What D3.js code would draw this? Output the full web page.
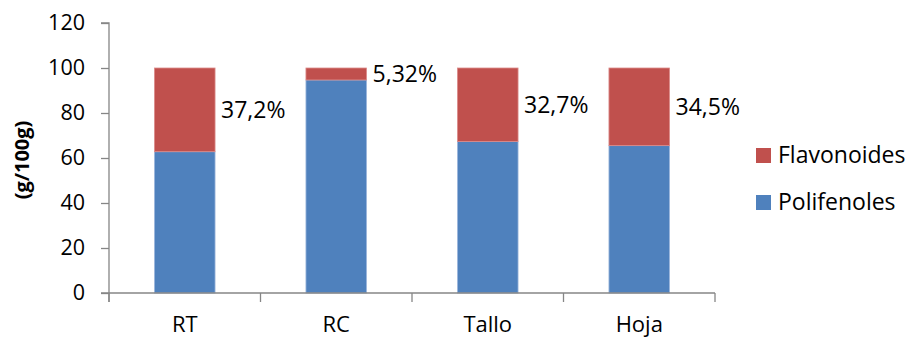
<!DOCTYPE html>
<html><head><meta charset="utf-8">
<script src="https://cdn.jsdelivr.net/npm/d3@7"></script>
<style>body{margin:0;background:#fff}svg{display:block}text{font-family:"Open Sans",sans-serif;fill:#000}</style>
</head><body><svg id="c" width="908" height="338"></svg>
<script>
const categories = ["RT", "RC", "Tallo", "Hoja"];
const polifenoles = [62.8, 94.68, 67.3, 65.5];
const flavonoides = [37.2, 5.32, 32.7, 34.5];
const labels = ["37,2%", "5,32%", "32,7%", "34,5%"];
const yTicks = [0, 20, 40, 60, 80, 100, 120];
const seriesNames = ["Flavonoides", "Polifenoles"];
const colors = {Polifenoles: "#4F81BD", Flavonoides: "#C0504D"};

const svg = d3.select("#c");
const pL = 109, pR = 715, pT = 23, pB = 293;
const x = d3.scaleBand().domain(categories).range([pL, pR]).padding(0);
const y = d3.scaleLinear().domain([0, 120]).range([pB, pT]);
const bw = x.bandwidth() * 0.4;
const axisColor = "#868686";

// y axis
const ya = svg.append("g").attr("transform", `translate(${pL},0)`)
  .call(d3.axisLeft(y).tickValues(yTicks).tickSize(8).tickPadding(16));
ya.select(".domain").attr("stroke", axisColor).attr("stroke-width", 1.3).attr("d", `M-8,${pT}H0V${pB + 9}`);
ya.selectAll(".tick line").attr("stroke", axisColor).attr("stroke-width", 1.3);
ya.selectAll(".tick text").attr("font-size", 21.5).attr("font-family", "Open Sans").attr("fill", "#000");

// bars
const data = categories.map((c, i) => ({c, p: polifenoles[i], f: flavonoides[i], l: labels[i]}));
const g = svg.append("g");
data.forEach(d => {
  const cx = x(d.c) + x.bandwidth() / 2;
  g.append("rect").attr("x", cx - bw / 2).attr("width", bw)
    .attr("y", y(d.p)).attr("height", y(0) - y(d.p))
    .attr("fill", colors.Polifenoles).attr("stroke", "#9db7dc").attr("stroke-width", 0.8);
  g.append("rect").attr("x", cx - bw / 2).attr("width", bw)
    .attr("y", y(d.p + d.f)).attr("height", y(d.p) - y(d.p + d.f))
    .attr("fill", colors.Flavonoides).attr("stroke", "#dc8c8a").attr("stroke-width", 0.8);
  svg.append("text").attr("x", cx + bw / 2 + 6).attr("y", y(d.p + d.f / 2))
    .attr("dy", "0.35em").attr("font-size", 23).text(d.l);
});

// x axis
const xa = svg.append("g").attr("transform", `translate(0,${pB})`);
xa.append("line").attr("x1", pL - 8).attr("x2", pR).attr("stroke", axisColor).attr("stroke-width", 1.3);
const bounds = categories.map(c => x(c)).concat([pR]);
xa.selectAll("line.t").data(bounds).join("line").attr("class", "t")
  .attr("x1", d => d).attr("x2", d => d).attr("y1", 0).attr("y2", 9)
  .attr("stroke", axisColor).attr("stroke-width", 1.3);
xa.selectAll("text").data(categories).join("text")
  .attr("x", d => x(d) + x.bandwidth() / 2).attr("y", 39)
  .attr("text-anchor", "middle").attr("font-size", 22).text(d => d);

// y title
svg.append("text").attr("transform", "translate(29,160) rotate(-90)")
  .attr("text-anchor", "middle").attr("font-size", 20).attr("font-weight", "bold").text("(g/100g)");

// legend
const leg = svg.append("g");
seriesNames.forEach((s, i) => {
  const ly = 155 + i * 47;
  leg.append("rect").attr("x", 756).attr("y", ly - 7).attr("width", 15).attr("height", 15).attr("fill", colors[s]);
  leg.append("text").attr("x", 778).attr("y", ly).attr("dy", "0.35em").attr("font-size", 23).text(s);
});
</script></body></html>
